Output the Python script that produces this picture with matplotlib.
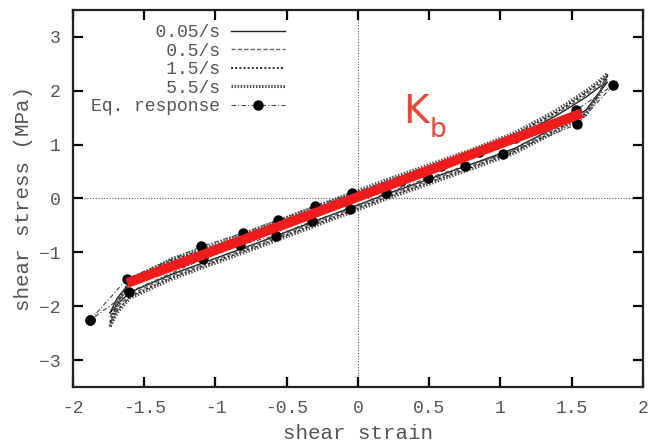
import numpy as np
import matplotlib
matplotlib.use('Agg')
import matplotlib.pyplot as plt

plt.rcParams['font.family'] = ['Liberation Mono', 'DejaVu Sans Mono']

# shear strain grid shared by the loading / unloading branches
strain = [-1.74, -1.69, -1.6, -1.3, -1.0, -0.7, -0.4, -0.1,
          0.2, 0.5, 0.8, 1.1, 1.4, 1.6, 1.69, 1.75]

rates = ['0.05/s', '0.5/s', '1.5/s', '5.5/s']

# upper branch of each loop (MPa), same order as strain
upper = {
    '0.05/s': [-2.12, -1.85, -1.56, -1.20, -0.93, -0.64, -0.34, -0.04,
               0.26, 0.54, 0.82, 1.13, 1.55, 1.88, 2.06, 2.16],
    '0.5/s':  [-2.20, -1.90, -1.54, -1.17, -0.90, -0.61, -0.31, -0.01,
               0.29, 0.57, 0.85, 1.16, 1.58, 1.92, 2.10, 2.22],
    '1.5/s':  [-2.30, -1.95, -1.52, -1.14, -0.87, -0.58, -0.28, 0.02,
               0.32, 0.60, 0.88, 1.19, 1.61, 1.96, 2.14, 2.27],
    '5.5/s':  [-2.38, -2.00, -1.50, -1.11, -0.84, -0.55, -0.25, 0.05,
               0.35, 0.63, 0.91, 1.22, 1.65, 2.00, 2.18, 2.32],
}
# lower branch of each loop (MPa), same order as strain
lower = {
    '0.05/s': [-2.12, -1.97, -1.74, -1.40, -1.11, -0.82, -0.52, -0.22,
               0.08, 0.36, 0.64, 0.93, 1.34, 1.64, 1.96, 2.16],
    '0.5/s':  [-2.20, -2.02, -1.78, -1.43, -1.14, -0.85, -0.55, -0.25,
               0.05, 0.33, 0.61, 0.90, 1.31, 1.61, 1.94, 2.22],
    '1.5/s':  [-2.30, -2.08, -1.82, -1.46, -1.17, -0.88, -0.58, -0.28,
               0.02, 0.30, 0.58, 0.87, 1.28, 1.58, 1.92, 2.27],
    '5.5/s':  [-2.38, -2.12, -1.85, -1.49, -1.20, -0.91, -0.61, -0.31,
               -0.01, 0.27, 0.55, 0.84, 1.25, 1.55, 1.90, 2.32],
}

# equilibrium response, traversed as one closed loop
eq_strain = [-1.88, -1.62, -1.10, -0.81, -0.56, -0.30, -0.04, 0.30, 0.58,
             0.85, 1.10, 1.53, 1.79, 1.54, 1.02, 0.75, 0.49, 0.20, -0.056,
             -0.32, -0.575, -0.83, -1.085, -1.61, -1.88]
eq_stress = [-2.26, -1.49, -0.89, -0.645, -0.405, -0.14, 0.10, 0.33, 0.60,
             0.86, 1.12, 1.64, 2.10, 1.38, 0.82, 0.60, 0.38, 0.10, -0.19,
             -0.42, -0.69, -0.86, -1.12, -1.74, -2.26]

# fitted bulk stiffness line
kb_strain = [-1.62, 1.57]
kb_stress = [-1.57, 1.58]

styles = {
    '0.05/s': dict(color='#222222', lw=1.0, ls='-'),
    '0.5/s':  dict(color='#666666', lw=1.0, ls=(0, (3, 1.6))),
    '1.5/s':  dict(color='#111111', lw=1.2, ls=(0, (1.2, 1.3))),
    '5.5/s':  dict(color='#555555', lw=2.2, ls=(0, (0.5, 0.5))),
}

fig = plt.figure(figsize=(6.5, 4.48), dpi=100)
ax = fig.add_axes([0.1123, 0.136, 0.8769, 0.842])

for r in rates:
    xs = strain + strain[::-1]
    ys = upper[r] + lower[r][::-1]
    ax.plot(xs, ys, label=r.rjust(12), zorder=3, **styles[r])

ax.plot(eq_strain, eq_stress, color='#444444', lw=0.8, ls=(0, (4, 2, 1, 2)),
        marker='o', ms=6.5, mfc='black', mec='black',
        label='Eq. response', zorder=4)

ax.plot(kb_strain, kb_stress, color='#f01c1c', lw=7,
        solid_capstyle='butt', zorder=5)
ax.text(0.32, 1.40, 'K', color='#e8483c', fontsize=28,
        family='DejaVu Sans', zorder=6)
ax.text(0.50, 1.14, 'b', color='#e8483c', fontsize=19,
        family='DejaVu Sans', zorder=6)

# zero axes
ax.axhline(0, color='#555555', lw=0.8, ls=(0, (1, 1.5)), zorder=1)
ax.axvline(0, color='#555555', lw=0.8, ls=(0, (1, 1.5)), zorder=1)

ax.set_xlim(-2, 2)
ax.set_ylim(-3.5, 3.5)
ax.set_xticks(np.arange(-2, 2.01, 0.5))
ax.set_xticklabels(['-2', '-1.5', '-1', '-0.5', '0', '0.5', '1', '1.5', '2'])
ax.set_yticks([-3, -2, -1, 0, 1, 2, 3])
ax.tick_params(direction='in', length=7, width=1.6, top=True, right=True,
               labelsize=13, labelcolor='#555555', pad=9)
for s in ax.spines.values():
    s.set_linewidth(1.6)
    s.set_color('#222222')

ax.set_xlabel('shear strain', fontsize=15, color='#555555', labelpad=5)
ax.set_ylabel('shear stress (MPa)', fontsize=15, color='#555555', labelpad=4)

leg = ax.legend(loc='upper right', bbox_to_anchor=(0.372, 0.962),
                markerfirst=False, frameon=False, fontsize=13,
                handlelength=3.0, handletextpad=0.6, labelspacing=0.08,
                borderpad=0, borderaxespad=0)
for t in leg.get_texts():
    t.set_color('#555555')

fig.savefig('out.png', dpi=100)
